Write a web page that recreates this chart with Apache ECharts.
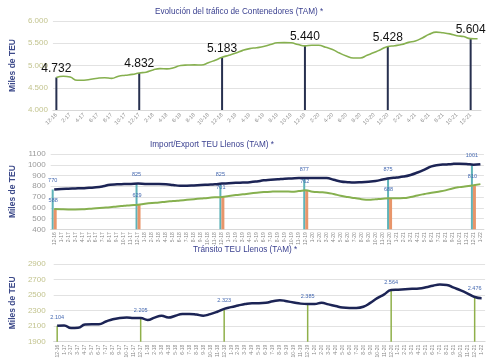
<!DOCTYPE html>
<html><head><meta charset="utf-8">
<script src="https://cdn.jsdelivr.net/npm/echarts@6/dist/echarts.min.js"></script>
<style>html,body{margin:0;padding:0;background:#fff}#c{width:488px;height:361px}</style>
</head><body><div id="c"></div>
<script>
const months = ['12-16','1-17','2-17','3-17','4-17','5-17','6-17','7-17','8-17','9-17','10-17','11-17',
'12-17','1-18','2-18','3-18','4-18','5-18','6-18','7-18','8-18','9-18','10-18','11-18',
'12-18','1-19','2-19','3-19','4-19','5-19','6-19','7-19','8-19','9-19','10-19','11-19',
'12-19','1-20','2-20','3-20','4-20','5-20','6-20','7-20','8-20','9-20','10-20','11-20',
'12-20','1-21','2-21','3-21','4-21','5-21','6-21','7-21','8-21','9-21','10-21','11-21',
'12-21','1-22'];

const tamTotal = [4732,4760,4740,4670,4670,4690,4715,4725,4710,4760,4780,4800,
4832,4850,4900,4930,4925,4950,5000,5010,5015,5010,5060,5120,
5183,5230,5280,5340,5380,5400,5425,5470,5510,5515,5510,5470,
5440,5455,5455,5410,5360,5280,5215,5170,5170,5230,5290,5360,
5428,5445,5470,5520,5550,5620,5700,5750,5735,5710,5670,5650,
5604,5600];

const exportTEU = [770,775,778,780,782,786,790,800,815,818,820,822,
825,822,820,820,818,812,805,805,808,812,815,818,
825,828,832,835,838,845,855,860,865,870,873,876,
877,877,877,876,860,845,838,835,838,843,850,862,
875,882,890,905,928,955,985,998,1003,1008,1010,1008,
1001,1005];

const importTEU = [588,586,585,585,586,590,595,600,605,612,618,624,
629,638,645,650,657,662,668,674,680,686,692,697,
701,710,718,725,733,740,746,750,752,752,750,755,
762,750,745,740,728,712,700,690,680,675,680,685,
688,688,690,700,715,728,740,750,762,780,792,800,
810,820];

const transitTEU = [2104,2110,2075,2080,2120,2125,2125,2160,2190,2205,2210,2205,
2205,2180,2210,2235,2210,2235,2255,2258,2250,2235,2255,2285,
2323,2345,2365,2385,2395,2395,2400,2420,2435,2420,2405,2390,
2385,2385,2400,2380,2360,2340,2335,2335,2350,2400,2460,2510,
2564,2570,2575,2580,2585,2600,2620,2635,2630,2595,2560,2520,
2476,2460];

const decMonths = ['12-16','12-17','12-18','12-19','12-20','12-21'];
const totalDec = [4732,4832,5183,5440,5428,5604];
const exportDec = [770,825,825,877,875,1001];
const importDec = [588,629,701,762,688,810];
const transitDec = [2104,2205,2323,2385,2564,2476];

const yTicks1 = [4000,6000,500];
const yTicks2 = [400,1100,100];
const yTicks3 = [1900,2900,200];

function dots(v){ return String(v).replace(/\B(?=(\d{3})+(?!\d))/g,'.'); }
function decBars(vals){ return months.map(m=>{ const i=decMonths.indexOf(m); return i>=0?vals[i]:'-'; }); }
function endLabel(arr, text, lab){ return arr.map((v,i)=> i===arr.length-1 ? {value:v,label:Object.assign({show:true,formatter:text},lab)} : v); }

const FONT = 'Liberation Sans, Arial, sans-serif';
const navy = '#1c2455';
const green = '#86b04f';
const grid = '#e2e2e2';

function xAx(idx, lab){
  return {type:'category', gridIndex:idx, data:months, boundaryGap:true,
    axisTick:{show:false}, axisLine:{show:true,lineStyle:{color:'#d8d8d8'}},
    axisLabel:Object.assign({color:'#8a8a8a', fontFamily:FONT}, lab)};
}
function yAx(idx, t, lab, nameGap, fmt){
  return {type:'value', gridIndex:idx, min:t[0], max:t[1], interval:t[2],
    axisLine:{show:false}, axisTick:{show:false},
    splitLine:{lineStyle:{color:grid}},
    axisLabel:Object.assign({fontSize:8, fontFamily:FONT, formatter:fmt}, lab),
    name:'Miles de TEU', nameLocation:'middle', nameGap:nameGap,
    nameTextStyle:{color:'#3d4a8a', fontSize:8.5, fontWeight:'bold', fontFamily:FONT}};
}

const titleStyle = {fontSize:8.2, color:'#3b4190', fontWeight:'normal', fontFamily:FONT};
const chart = echarts.init(document.getElementById('c'), null, {renderer:'canvas'});
chart.setOption({
  animation:false,
  backgroundColor:'#fff',
  textStyle:{fontFamily:FONT},
  title:[
    {text:'Evolución del tráfico de Contenedores (TAM) *', left:155, top:8, padding:0, textStyle:titleStyle},
    {text:'Import/Export TEU Llenos (TAM) *', left:150, top:141, padding:0, textStyle:titleStyle},
    {text:'Tránsito TEU Llenos (TAM) *', left:193, top:246, padding:0, textStyle:titleStyle}
  ],
  grid:[
    {left:46.5, width:434.5, top:21, height:89},
    {left:34.4, width:449.5, top:154, height:75.3},
    {left:43.1, width:442, top:264, height:77.7}
  ],
  xAxis:[
    xAx(0,{interval:1, rotate:45, fontSize:5.5, margin:4}),
    xAx(1,{interval:0, rotate:90, fontSize:5, margin:3}),
    xAx(2,{interval:0, rotate:90, fontSize:5, margin:3})
  ],
  yAxis:[
    yAx(0, yTicks1, {color:'#c3c48f', margin:5}, 29, v=>dots(v)),
    yAx(1, yTicks2, {color:'#9a9a9a', margin:5}, 22, v=>String(v)),
    yAx(2, yTicks3, {color:'#c3c48f', margin:8}, 27, v=>String(v))
  ],
  series:[
    {type:'bar', xAxisIndex:0, yAxisIndex:0, data:decBars(totalDec), barWidth:2,
      itemStyle:{color:'#27304f'}, z:1,
      label:{show:true, position:'top', distance:3, color:'#111', fontSize:12, fontFamily:FONT, formatter:p=>dots(p.value)}},
    {type:'line', xAxisIndex:0, yAxisIndex:0, data:tamTotal, smooth:true, symbol:'none',
      lineStyle:{color:green, width:1.6}, z:3},

    {type:'bar', xAxisIndex:1, yAxisIndex:1, data:decBars(exportDec), barWidth:2, barGap:'0%',
      itemStyle:{color:'#5fb3b8'}, z:1,
      label:{show:true, position:'top', distance:6, color:'#4468b0', fontSize:5.5, fontFamily:FONT}},
    {type:'bar', xAxisIndex:1, yAxisIndex:1, data:decBars(importDec), barWidth:3, barGap:'0%',
      itemStyle:{color:'#e8956a'}, z:1,
      label:{show:true, position:'top', distance:6, offset:[-2,0], color:'#4468b0', fontSize:5.5, fontFamily:FONT}},
    {type:'line', xAxisIndex:1, yAxisIndex:1, smooth:true, symbol:'none',
      data:endLabel(exportTEU,'Export',{position:'left', distance:4, offset:[0,2], color:navy, fontWeight:'bold', fontSize:8, fontFamily:FONT}),
      lineStyle:{color:navy, width:2.5}, z:3},
    {type:'line', xAxisIndex:1, yAxisIndex:1, smooth:true, symbol:'none',
      data:endLabel(importTEU,'Import',{position:'left', distance:6, offset:[2,19], color:'#8ab04f', fontSize:9, fontFamily:FONT}),
      lineStyle:{color:green, width:2}, z:3},

    {type:'bar', xAxisIndex:2, yAxisIndex:2, data:decBars(transitDec), barWidth:1.5,
      itemStyle:{color:'#8fb04a'}, z:1,
      label:{show:true, position:'top', distance:5, color:'#4468b0', fontSize:5.5, fontFamily:FONT, formatter:p=>dots(p.value)}},
    {type:'line', xAxisIndex:2, yAxisIndex:2, data:transitTEU, smooth:true, symbol:'none',
      lineStyle:{color:navy, width:2.5}, z:3}
  ]
});
</script></body></html>
